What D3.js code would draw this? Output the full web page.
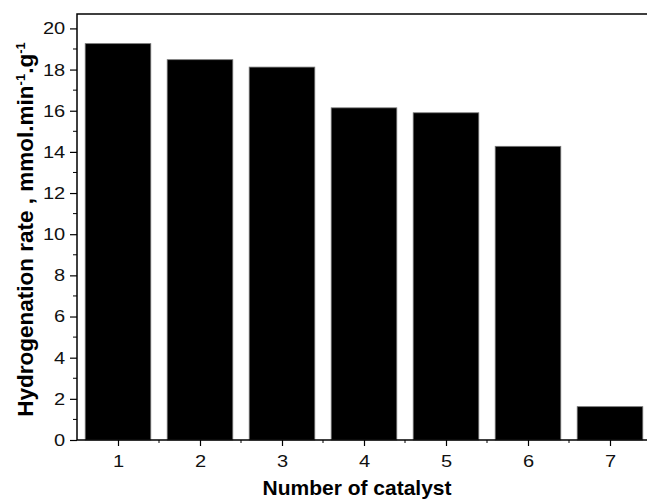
<!DOCTYPE html>
<html>
<head>
<meta charset="utf-8">
<script src="https://cdn.jsdelivr.net/npm/d3@7"></script>
<style>
  html, body { margin: 0; padding: 0; background: #fff; }
  svg { display: block; font-family: "Liberation Sans", Arial, sans-serif; }
</style>
</head>
<body>
<div id="chart"></div>
<script>
// values
const catalysts = [1, 2, 3, 4, 5, 6, 7];
const rates = [19.26, 18.48, 18.12, 16.14, 15.9, 14.27, 1.62];
const yTicks = [0, 2, 4, 6, 8, 10, 12, 14, 16, 18, 20];
const yMinorTicks = [1, 3, 5, 7, 9, 11, 13, 15, 17, 19];
const xMinorTicks = [1.5, 2.5, 3.5, 4.5, 5.5, 6.5];

const width = 647, height = 499;
const margin = { top: 14, left: 77, bottom: 59 };
const plotRight = 651; // frame runs slightly past the picture edge

const svg = d3.select('#chart').append('svg')
    .attr('width', width)
    .attr('height', height);

const x = d3.scaleLinear().domain([0.5, 7.5]).range([margin.left, plotRight]);
const y = d3.scaleLinear().domain([0, 20.7]).range([height - margin.bottom, margin.top]);

// bars
svg.append('g').selectAll('rect')
    .data(catalysts)
    .enter()
    .append('rect')
    .attr('x', (d) => x(d - 0.4))
    .attr('width', (d) => x(d + 0.4) - x(d - 0.4))
    .attr('y', (d, i) => y(rates[i]))
    .attr('height', (d, i) => y(0) - y(rates[i]))
    .attr('fill', '#000')
    .attr('stroke', '#777')
    .attr('stroke-width', 0.8);

// frame
svg.append('rect')
    .attr('x', margin.left)
    .attr('y', margin.top)
    .attr('width', plotRight - margin.left)
    .attr('height', y(0) - margin.top)
    .attr('fill', 'none')
    .attr('stroke', '#000')
    .attr('stroke-width', 1.5);

// x axis
const xAxis = svg.append('g')
    .attr('transform', `translate(0,${y(0)})`)
    .call(d3.axisBottom(x).tickValues(catalysts).tickFormat(d3.format('d')).tickSize(6).tickPadding(9));
xAxis.append('g').selectAll('line')
    .data(xMinorTicks)
    .enter()
    .append('line')
    .attr('x1', (d) => x(d)).attr('x2', (d) => x(d))
    .attr('y1', 0).attr('y2', 3)
    .attr('stroke', '#000');

// y axis
const yAxis = svg.append('g')
    .attr('transform', `translate(${margin.left},0)`)
    .call(d3.axisLeft(y).tickValues(yTicks).tickFormat(d3.format('d')).tickSize(7).tickPadding(3));
yAxis.append('g').selectAll('line')
    .data(yMinorTicks)
    .enter()
    .append('line')
    .attr('x1', 0).attr('x2', -4)
    .attr('y1', (d) => y(d)).attr('y2', (d) => y(d))
    .attr('stroke', '#000');

svg.selectAll('.domain').remove();
xAxis.attr('font-size', 17).attr('font-family', '"Liberation Sans", Arial, sans-serif');
yAxis.attr('font-size', 17).attr('font-family', '"Liberation Sans", Arial, sans-serif');
svg.selectAll('.tick line').attr('stroke', '#000').attr('stroke-width', 1.2);
// the reference lettering is a little wider than Arial
svg.selectAll('.tick text').attr('fill', '#111').attr('transform', 'scale(1.18,1)');

// axis titles
svg.append('text')
    .attr('x', 357)
    .attr('y', 495)
    .attr('text-anchor', 'middle')
    .style('font-size', '21px')
    .style('font-weight', 'bold')
    .text('Number of catalyst');

const yTitle = svg.append('text')
    .attr('transform', `translate(33,${229.5}) rotate(-90)`)
    .attr('text-anchor', 'middle')
    .style('font-size', '22.5px')
    .style('font-weight', 'bold');
yTitle.append('tspan').text('Hydrogenation rate , mmol.min');
yTitle.append('tspan').attr('dy', -8).style('font-size', '13px').text('-1');
yTitle.append('tspan').attr('dy', 8).text('.g');
yTitle.append('tspan').attr('dy', -8).style('font-size', '13px').text('-1');
</script>
</body>
</html>
